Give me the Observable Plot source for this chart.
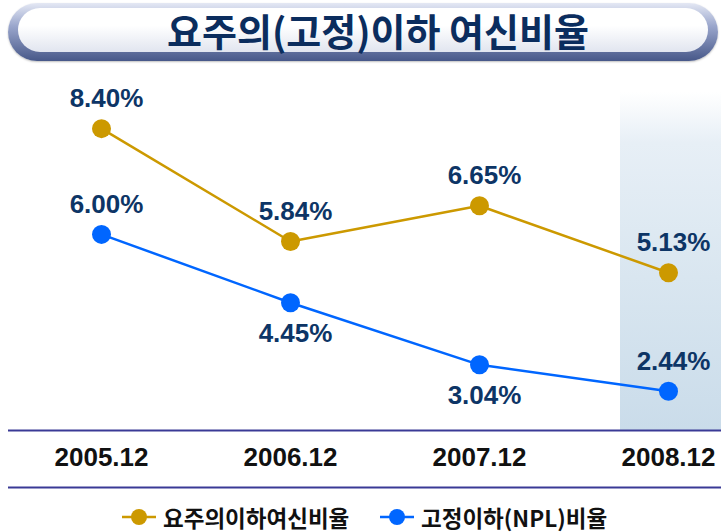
<!DOCTYPE html>
<html>
<head>
<meta charset="utf-8">
<script src="https://cdn.jsdelivr.net/npm/d3@7"></script>
<script src="https://cdn.jsdelivr.net/npm/@observablehq/plot@0.6"></script>
<style>
  html, body { margin: 0; padding: 0; background: #fff; }
  body { width: 721px; height: 532px; position: relative; overflow: hidden;
         font-family: "Liberation Sans", "Noto Sans CJK KR", sans-serif; }
  #title { position: relative; height: 66px; }
  #banner { position: absolute; left: 8px; top: 3px; width: 710px; height: 58px; border-radius: 29px;
            background: linear-gradient(to bottom, #e4e8f4 0%, #9aa6cc 40%, #475889 100%);
            box-shadow: 0 1px 2px rgba(0,0,0,0.25); }
  #banner .inner { position: absolute; left: 10px; top: 5px; right: 10px; bottom: 9px; border-radius: 22px;
            background: linear-gradient(to bottom, #ffffff 0%, #ffffff 40%, #e1e5ef 100%); }
  #banner .txt { position: absolute; left: 0; right: 0; top: 0; bottom: 0; text-align: center;
            font-family: "Noto Sans CJK KR", sans-serif; font-weight: 700; font-size: 38px; line-height: 54px;
            color: #0b2d5e; padding-left: 30px; }
  #hl { position: absolute; left: 620px; top: 92px; width: 101px; height: 338px; z-index: 0;
        background: linear-gradient(to bottom, rgba(255,255,255,1) 0%, #e7eff6 15%, #d9e6f0 55%, #cadcea 100%); }
  #chart { position: relative; z-index: 1; height: 434px; }
  #legend { position: absolute; top: 503px; left: 0; width: 721px; height: 28px; z-index: 2; }
  .item { position: absolute; top: 0; height: 28px; display: flex; align-items: center;
          font-family: "Noto Sans CJK KR", sans-serif; font-weight: 700; font-size: 22.5px; line-height: 26px; color: #111; }
  .item svg { margin-right: 7px; }
</style>
</head>
<body>
<div id="title"><div id="banner"><div class="inner"></div><div class="txt">요주의(고정)이하 여신비율</div></div></div>
<div id="hl"></div>
<div id="chart"></div>
<div id="legend"></div>
<script>
const periods = ["2005.12", "2006.12", "2007.12", "2008.12"];
const seriesNames = ["요주의이하여신비율", "고정이하(NPL)비율"];
const watchOrWorse = [8.40, 5.84, 6.65, 5.13];
const npl = [6.00, 4.45, 3.04, 2.44];
const colors = ["#cc9900", "#0066ff"];

const rows = [];
periods.forEach((p, i) => {
  rows.push({period: p, series: seriesNames[0], value: watchOrWorse[i]});
  rows.push({period: p, series: seriesNames[1], value: npl[i]});
});
// labels below the point for the lower series where it dips
const below = d => d.series === seriesNames[1] && (d.period === periods[1] || d.period === periods[2]);

const labelFont = {fontSize: 26, fontWeight: "bold", fill: "#0d3566", fontFamily: "Liberation Sans, Arial, sans-serif"};

const chart = Plot.plot({
  width: 721,
  height: 434,
  marginLeft: 100,
  marginRight: 53,
  marginTop: 0,
  marginBottom: 70,
  style: {background: "transparent", overflow: "visible"},
  x: {type: "point", domain: periods, padding: 0, axis: null, label: null},
  y: {domain: [1.55, 9.81], axis: null},
  color: {domain: seriesNames, range: colors},
  marks: [
    Plot.ruleY([1.55], {stroke: "#3a3a96", strokeWidth: 2, insetLeft: -92, insetRight: -53}),
    Plot.ruleY([1.55], {stroke: "#3a3a96", strokeWidth: 2, insetLeft: -92, insetRight: -53, dy: 57}),
    Plot.axisX({domain: periods, label: null, tickSize: 0, tickPadding: 17, fontSize: 26, fontWeight: "bold",
                fill: "#111", fontFamily: "Liberation Sans, Arial, sans-serif"}),
    Plot.line(rows, {x: "period", y: "value", z: "series", stroke: "series", strokeWidth: 2.5}),
    Plot.dot(rows, {x: "period", y: "value", fill: "series", r: 9.5}),
    Plot.text(rows.filter(d => !below(d)), {x: "period", y: "value", text: d => d.value.toFixed(2) + "%",
              dy: -30, dx: 5, ...labelFont}),
    Plot.text(rows.filter(below), {x: "period", y: "value", text: d => d.value.toFixed(2) + "%",
              dy: 31, dx: 5, ...labelFont})
  ]
});
document.getElementById("chart").appendChild(chart);

// legend
const legend = document.getElementById("legend");
const lefts = [122, 380];
seriesNames.forEach((name, i) => {
  const item = document.createElement("div");
  item.className = "item";
  item.style.left = lefts[i] + "px";
  item.innerHTML = `<svg width="34" height="20"><line x1="0" x2="34" y1="10" y2="10" stroke="${colors[i]}" stroke-width="2.5"/><circle cx="17" cy="10" r="8" fill="${colors[i]}"/></svg><span>${name}</span>`;
  legend.appendChild(item);
});
</script>
</body>
</html>
